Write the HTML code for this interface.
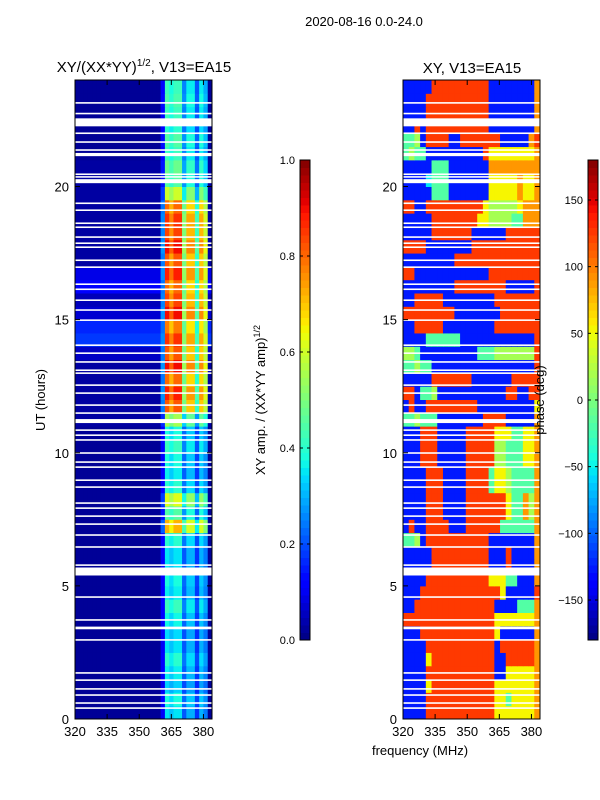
<!DOCTYPE html>
<html><head><meta charset="utf-8">
<style>
body{margin:0;background:#fff;}
svg{display:block;font-family:"Liberation Sans",sans-serif;}
</style></head>
<body>
<svg id="fig" width="600" height="800" viewBox="0 0 600 800" xmlns="http://www.w3.org/2000/svg">
<rect width="600" height="800" fill="#fff"/>
<text x="364" y="26" font-size="13" text-anchor="middle">2020-08-16 0.0-24.0</text>
<text x="144" y="72" font-size="15" text-anchor="middle">XY/(XX*YY)<tspan font-size="10" dy="-6">1/2</tspan><tspan dy="6">, V13=EA15</tspan></text>
<text x="472" y="73" font-size="15" text-anchor="middle">XY, V13=EA15</text>
<text transform="translate(45,400) rotate(-90)" font-size="13" text-anchor="middle">UT (hours)</text>
<text transform="translate(265,400) rotate(-90)" font-size="13" text-anchor="middle">XY amp. / (XX*YY amp)<tspan font-size="9" dy="-5">1/2</tspan></text>
<text x="420" y="755" font-size="13" text-anchor="middle">frequency (MHz)</text>
<g id="left"></g><g id="right"></g><g id="cbars"></g>
<text transform="translate(544,400) rotate(-90)" font-size="13" text-anchor="middle">phase (deg)</text>
</svg>
<script>
// ---- data ----
const hourTicks=[0,5,10,15,20];
const freqTicks=[320,335,350,365,380];
const ampTicks=[0.0,0.2,0.4,0.6,0.8,1.0];
const phaseTicks=[-150,-100,-50,0,50,100,150];
// left panel: 2 MHz columns 320..384, weights (0 => background)
const ampColWeight=[0,0,0,0,0,0,0,0,0,0,0,0,0,0,0,0,0,0,0,0,0.3,1.0,0.9,1.0,1.0,0.6,0.85,0.85,0.5,0.85,0.7,0];
// 0.5 h rows from hour 0 upward
const ampRowFg=[0.35,0.38,0.33,0.36,0.4,0.35,0.34,0.37,0.42,0.36,0.38,0.35,0.35,0.4,0.72,0.45,0.62,0.4,0.36,0.38,0.42,0.38,0.55,0.82,0.88,0.8,0.9,0.82,0.86,0.78,0.9,0.84,0.8,0.88,0.82,0.9,0.84,0.86,0.8,0.6,0.45,0.48,0.42,0.45,0.4,0.42,0.44,0.42];
const ampRowBg=[0.02,0.02,0.02,0.02,0.02,0.02,0.02,0.02,0.02,0.02,0.02,0.02,0.02,0.02,0.02,0.02,0.02,0.02,0.02,0.02,0.02,0.02,0.03,0.03,0.03,0.03,0.03,0.06,0.18,0.16,0.07,0.05,0.12,0.09,0.03,0.03,0.03,0.03,0.03,0.03,0.03,0.03,0.02,0.02,0.02,0.02,0.02,0.02];
// right panel: phase levels (0-9 => -180..180), 24 columns of 2.67 MHz
const phaseRows=[
"111188888888888866666667","111188888888888866466667","111168888888888866666667","111188888888888811666667",
"111168888888888811888887","111188888888888818888887","111888888888888861111117","888888888888888866666667",
"118888888888888811114447","111888888888888886111118","111188888888888666441117","111118888888888111811117",
"111118888888888111811117","445188888888888111111117","181188881118888884444447","111188811118888888644757",
"111188811118888888644757","111188811118888466544447","111188811118888466544447","111888111118888855444667",
"111888111118888855444667","111888111118888866644667","445444111111118888111117","181188888888811111111116",
"881445111111111111881188","111118888888111111188888","445441111111111111111118","554111111111144455555558",
"111144444411111111111118","118888811111111188888888","888888888111111118888888","118888811111111188888888",
"111111111888888888111118","881111111111111888888888","111111111888888888888888","888811111111888888888888",
"111118888888111111888888","111118888888866555544777","881188888888886555556777","111114441111111666667667",
"111134441111111666667667","111114441111111777777777","454411111111118666666667","445188881188888881111178",
"118188888888888111111117","111188888888888111111117","111188888888888111111117","111118888888888111111117"];
// flagged (white) times in hours, with thickness in hours
const gapHours=[23.14,22.74,22.41,22.0,21.67,21.37,21.2,20.46,20.36,20.2,19.37,19.11,18.62,18.47,18.1,17.87,17.72,17.23,16.97,16.33,16.14,15.73,15.36,14.98,14.04,13.74,13.41,13.1,12.99,12.54,12.24,11.79,11.49,11.19,10.85,10.66,10.48,9.99,9.65,9.46,8.97,8.71,8.11,7.92,7.62,7.32,6.91,6.46,5.78,5.54,4.58,3.72,3.42,2.97,1.73,1.46,1.13,0.9,0.6,0.41];
const gapWidth=[0.06,0.06,0.3,0.06,0.06,0.06,0.12,0.06,0.06,0.15,0.06,0.06,0.06,0.06,0.06,0.06,0.06,0.06,0.06,0.06,0.06,0.06,0.06,0.06,0.06,0.06,0.06,0.06,0.06,0.06,0.06,0.06,0.06,0.15,0.06,0.06,0.06,0.06,0.06,0.06,0.06,0.06,0.06,0.06,0.06,0.06,0.06,0.06,0.06,0.3,0.06,0.06,0.1,0.06,0.06,0.06,0.06,0.06,0.06,0.06];

function interp(v,pts){for(let i=1;i<pts.length;i++){if(v<=pts[i][0]){const [x0,y0]=pts[i-1],[x1,y1]=pts[i];return y0+(y1-y0)*(v-x0)/(x1-x0);}}return pts[pts.length-1][1];}
function jet(v){v=Math.max(0,Math.min(1,v));
 const r=interp(v,[[0,0],[0.35,0],[0.66,1],[0.89,1],[1,0.5]]);
 const g=interp(v,[[0,0],[0.125,0],[0.375,1],[0.64,1],[0.91,0],[1,0]]);
 const b=interp(v,[[0,0.5],[0.11,1],[0.34,1],[0.65,0],[1,0]]);
 return `rgb(${Math.round(r*255)},${Math.round(g*255)},${Math.round(b*255)})`;}
const NS='http://www.w3.org/2000/svg';
function mk(tag,attrs,parent){const e=document.createElementNS(NS,tag);for(const k in attrs)e.setAttribute(k,attrs[k]);parent.appendChild(e);return e;}
const yTop=80,yBot=719;
const yH=h=>yBot-h*(yBot-yTop)/24;
// left panel
const L=document.getElementById('left');
const lx0=75,lx1=212;
const lxF=f=>lx0+(f-320)*(lx1-lx0)/64;
ampRowFg.forEach((fg,r)=>{
 ampColWeight.forEach((w,c)=>{
  const v=w===0?ampRowBg[r]:fg*w;
  const rc=mk('rect',{x:lxF(320+2*c),y:yH((r+1)*0.5),width:lxF(322)-lxF(320)+0.5,height:yH(0)-yH(0.5)+0.5,fill:jet(v)},L);
  
  
 });
});
// right panel
const R=document.getElementById('right');
const rx0=403,rx1=540;
const rxF=f=>rx0+(f-320)*(rx1-rx0)/64;
phaseRows.forEach((row,r)=>{
 for(let c=0;c<24;c++){
  const d=parseInt(row.charAt(c)||'1');
  const ph=-180+(d+0.5)*36;
  const rc=mk('rect',{x:rxF(320+c*64/24),y:yH((r+1)*0.5),width:rxF(320+64/24)-rxF(320)+0.5,height:yH(0)-yH(0.5)+0.5,fill:jet((ph+180)/360)},R);
  
  
 }
});
// gaps
[[L,lx0,lx1],[R,rx0,rx1]].forEach(([g,a,b])=>{
 gapHours.forEach((h,i)=>{
  const w=gapWidth[i];
  const rc=mk('rect',{x:a,y:yH(h+w/2),width:b-a,height:Math.max(1.5,yH(h-w/2)-yH(h+w/2)),fill:'#fff'},g);
  
  
 });
});
// axes
[[L,lx0,lx1,lxF,'left'],[R,rx0,rx1,rxF,'right']].forEach(([g,a,b,xF,nm])=>{
 const fr=mk('rect',{x:a,y:yTop,width:b-a,height:yBot-yTop,fill:'none',stroke:'#000','stroke-width':1},g);
 
 
 hourTicks.forEach(h=>{
  const y=yH(h);
  mk('line',{x1:a,x2:a+5,y1:y,y2:y,stroke:'#000'},g);
  mk('line',{x1:b,x2:b-5,y1:y,y2:y,stroke:'#000'},g);
  const t=mk('text',{x:a-6,y:y+5,'font-size':13,'text-anchor':'end'},g);t.textContent=h;
  
  
 });
 freqTicks.forEach(f=>{
  const x=xF(f);
  mk('line',{x1:x,x2:x,y1:yBot,y2:yBot-5,stroke:'#000'},g);
  mk('line',{x1:x,x2:x,y1:yTop,y2:yTop+5,stroke:'#000'},g);
  const t=mk('text',{x:x,y:yBot+17,'font-size':13,'text-anchor':'middle'},g);t.textContent=f;
  
  
 });
});
// colorbars
const C=document.getElementById('cbars');
function cbar(x,vmin,vmax,ticks,fmt,nm){
 const y0=160,y1=640,N=64;
 for(let i=0;i<N;i++){
  const rc=mk('rect',{x:x,y:y1-(i+1)*(y1-y0)/N,width:10,height:(y1-y0)/N+0.5,fill:jet((i+0.5)/N)},C);
  
  
 }
 const fr=mk('rect',{x:x,y:y0,width:10,height:y1-y0,fill:'none',stroke:'#000'},C);
 
 
 ticks.forEach(v=>{
  const y=y1-(v-vmin)/(vmax-vmin)*(y1-y0);
  mk('line',{x1:x,x2:x+3,y1:y,y2:y,stroke:'#000'},C);
  mk('line',{x1:x+10,x2:x+7,y1:y,y2:y,stroke:'#000'},C);
  const t=mk('text',{x:x-5,y:y+4,'font-size':11,'text-anchor':'end'},C);
  t.textContent=fmt(v);
  
  
 });
}
cbar(300,0,1,ampTicks,v=>v.toFixed(1),'amp');
cbar(588,-180,180,phaseTicks,v=>v<0?'\u2212'+(-v):String(v),'phase');
</script>
</body></html>
